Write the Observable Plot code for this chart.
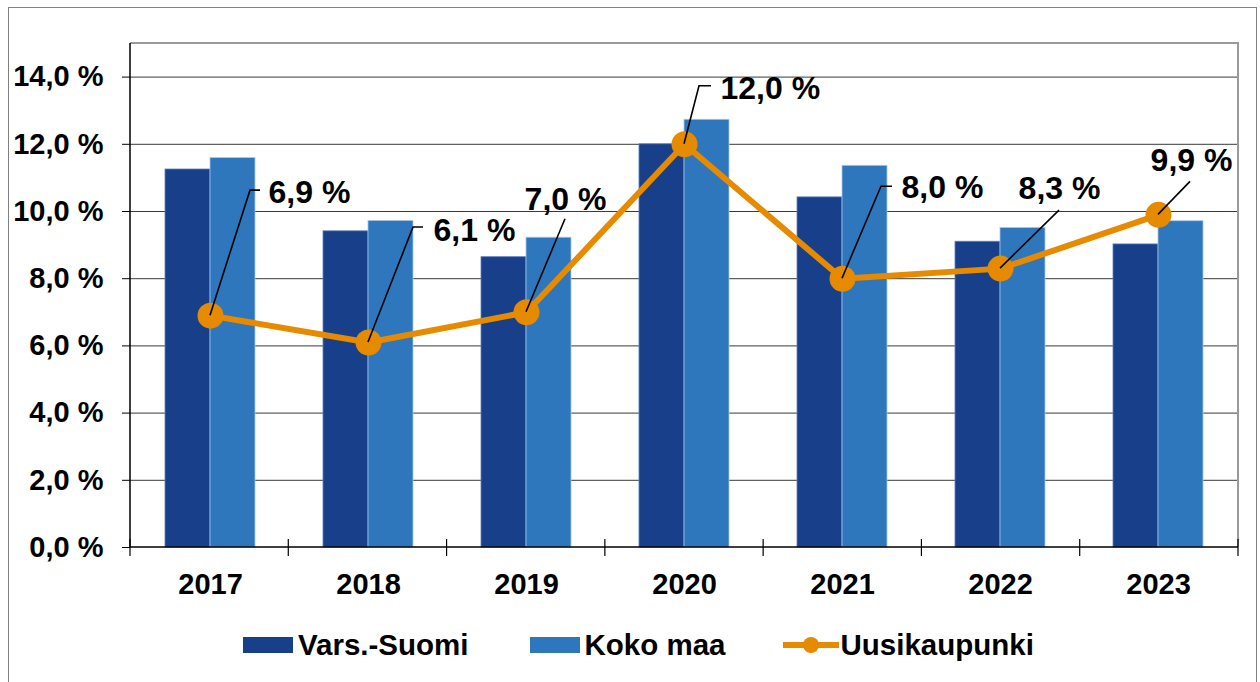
<!DOCTYPE html>
<html><head><meta charset="utf-8">
<script src="https://cdn.jsdelivr.net/npm/d3@7"></script>
<script src="https://cdn.jsdelivr.net/npm/@observablehq/plot@0.6"></script>
<style>
body{margin:0;background:#fff;font-family:"Liberation Sans",Arial,sans-serif;}
#outer{position:absolute;left:8px;top:7px;width:1249px;height:720px;border:1.5px solid #808080;box-sizing:border-box;}
#chart{position:absolute;left:0;top:0;}
#legend{position:absolute;top:626px;left:243px;display:flex;align-items:center;font-weight:bold;font-size:29.5px;color:#000;height:38px;white-space:nowrap;}
.item{display:flex;align-items:center;}
.sw{display:inline-block;width:50px;height:16px;margin-right:5px;}
</style></head>
<body>
<div id="outer"></div>
<div id="chart"></div>
<div id="legend"></div>
<script>
// ---- data ----
const years = ["2017", "2018", "2019", "2020", "2021", "2022", "2023"];
const varsSuomi = [11.25, 9.41, 8.64, 12.0, 10.42, 9.10, 9.02];
const kokoMaa = [11.59, 9.72, 9.22, 12.73, 11.36, 9.51, 9.71];
const uusikaupunki = [6.9, 6.1, 7.0, 12.0, 8.0, 8.3, 9.9];
const seriesNames = ["Vars.-Suomi", "Koko maa", "Uusikaupunki"];
const yTicks = [0, 2, 4, 6, 8, 10, 12, 14];

// ---- styles / layout ----
const colors = ["#183F8A", "#2E77BC", "#E68A00"];
const font = '"Liberation Sans", Arial, sans-serif';
const legendGaps = [61, 57, 0];
// label leader offsets (pixels relative to the data point)
const labelLayout = [
  {leader: [[40, -125], [50, -125]], text: [58, -123], anchor: "start"},
  {leader: [[45, -115], [55, -115]], text: [65, -112], anchor: "start"},
  {leader: [[39, -93]], text: [39, -113], anchor: "middle"},
  {leader: [[15, -58], [27, -58]], text: [36, -56], anchor: "start"},
  {leader: [[39, -92], [50, -92]], text: [59, -91], anchor: "start"},
  {leader: [[59, -58]], text: [59, -80], anchor: "middle"},
  {leader: [[32, -33]], text: [33, -54], anchor: "middle"}
];

const rows = years.map((year, i) => ({year, vars: varsSuomi[i], koko: kokoMaa[i], uusi: uusikaupunki[i], i}));
const fmt = v => v.toFixed(1).replace(".", ",") + " %";

const PADI = 0.43;

function bandwidthOf(scales, dimensions) {
  const {width, marginLeft, marginRight} = dimensions;
  const step = (width - marginLeft - marginRight) / years.length;
  const b = scales.x.bandwidth;
  return typeof b === "function" ? b() : (typeof b === "number" ? b : step * (1 - PADI));
}

function decorations(index, scales, values, dimensions) {
  const {width, marginLeft, marginRight, marginTop} = dimensions;
  const n = years.length;
  const step = (width - marginLeft - marginRight) / n;
  const y0 = scales.y(0);
  const right = width - marginRight;
  const g = d3.create("svg:g");
  g.append("path").attr("d", `M${marginLeft},${marginTop}H${right}V${y0}`)
    .attr("fill", "none").attr("stroke", "#9a9a9a").attr("stroke-width", 2);
  g.append("path").attr("d", `M${marginLeft},${marginTop}V${y0}H${right}`)
    .attr("fill", "none").attr("stroke", "#000").attr("stroke-width", 1.5);
  for (let k = 0; k <= n; k++) {
    const x = marginLeft + k * step;
    g.append("line").attr("x1", x).attr("x2", x).attr("y1", y0 - 8).attr("y2", y0 + 9)
      .attr("stroke", "#000").attr("stroke-width", 1.2);
  }
  return g.node();
}

function leaders(index, scales, values, dimensions) {
  const bw = bandwidthOf(scales, dimensions);
  const g = d3.create("svg:g");
  rows.forEach((r, i) => {
    const px = scales.x(r.year) + bw / 2, py = scales.y(r.uusi);
    let d = `M${px},${py}`;
    for (const [ox, oy] of labelLayout[i].leader) d += `L${px + ox},${py + oy}`;
    g.append("path").attr("d", d).attr("fill", "none").attr("stroke", "#000").attr("stroke-width", 1.6);
  });
  return g.node();
}

const labelMarks = rows.map((r, i) => Plot.text([r], {
  x: "year", y: "uusi", text: d => fmt(d.uusi),
  dx: labelLayout[i].text[0], dy: labelLayout[i].text[1],
  textAnchor: labelLayout[i].anchor, fontSize: 32, fontWeight: "bold", fill: "#000"
}));

const chart = Plot.plot({
  width: 1260,
  height: 615,
  marginLeft: 130,
  marginRight: 22,
  marginTop: 43,
  marginBottom: 68,
  style: {fontFamily: font, fontWeight: "bold", background: "transparent", color: "#000"},
  x: {type: "band", domain: years, paddingInner: PADI, paddingOuter: PADI / 2, label: null, axis: null},
  y: {domain: [0, 15], label: null, axis: null},
  marks: [
    Plot.gridY(yTicks.slice(1), {stroke: "#3a3a3a", strokeOpacity: 1, strokeWidth: 1}),
    Plot.barY(rows, {x: "year", y: "vars", fill: colors[0], insetRight: 45, stroke: "#5b7fc0", strokeWidth: 0.8}),
    Plot.barY(rows, {x: "year", y: "koko", fill: colors[1], insetLeft: 45, stroke: "#a8c8ea", strokeWidth: 0.8}),
    decorations,
    Plot.axisY({ticks: yTicks, tickFormat: fmt, tickSize: 8, tickPadding: 19, fontSize: 29, fontWeight: "bold", label: null, stroke: "#000"}),
    Plot.axisX({tickSize: 0, tickPadding: 26, fontSize: 29, fontWeight: "bold", label: null}),
    Plot.line(rows, {x: "year", y: "uusi", stroke: colors[2], strokeWidth: 6, strokeLinejoin: "round"}),
    Plot.dot(rows, {x: "year", y: "uusi", r: 13, fill: colors[2], stroke: "none"}),
    leaders,
    ...labelMarks
  ]
});
document.getElementById("chart").appendChild(chart);

// legend
const legend = document.getElementById("legend");
seriesNames.forEach((name, i) => {
  const item = document.createElement("div");
  item.className = "item";
  item.style.marginRight = legendGaps[i] + "px";
  if (i < 2) {
    const sw = document.createElement("span");
    sw.className = "sw";
    sw.style.background = colors[i];
    item.appendChild(sw);
  } else {
    const ns = "http://www.w3.org/2000/svg";
    const svg = document.createElementNS(ns, "svg");
    svg.setAttribute("width", 56); svg.setAttribute("height", 20);
    svg.style.marginRight = "2px";
    const ln = document.createElementNS(ns, "line");
    ln.setAttribute("x1", 0); ln.setAttribute("x2", 56); ln.setAttribute("y1", 10); ln.setAttribute("y2", 10);
    ln.setAttribute("stroke", colors[2]); ln.setAttribute("stroke-width", 6);
    const c = document.createElementNS(ns, "circle");
    c.setAttribute("cx", 28); c.setAttribute("cy", 10); c.setAttribute("r", 8); c.setAttribute("fill", colors[2]);
    svg.appendChild(ln); svg.appendChild(c);
    item.appendChild(svg);
  }
  const t = document.createElement("span");
  t.textContent = name;
  item.appendChild(t);
  legend.appendChild(item);
});
</script>
</body></html>
